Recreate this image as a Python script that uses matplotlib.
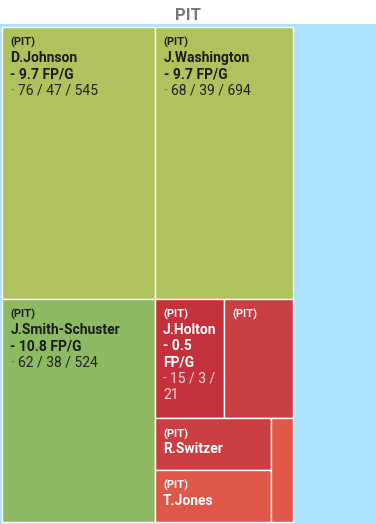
import matplotlib
matplotlib.use("Agg")
import matplotlib.pyplot as plt
from matplotlib.patches import Rectangle
from matplotlib.font_manager import FontProperties

plt.rcParams["font.family"] = ["Roboto", "DejaVu Sans"]

# ---------------- data ----------------
team = "PIT"
players = ["D.Johnson", "J.Washington", "J.Smith-Schuster", "J.Holton",
           None, "R.Switzer", "T.Jones", None]
fp_per_game = [9.7, 9.7, 10.8, 0.5, None, None, None, None]
targets = [76, 68, 62, 15, 15, 11, 11, 4]
receptions = [47, 39, 38, 3, None, None, None, None]
yards = [545, 694, 524, 21, None, None, None, None]

# ---------------- style ----------------
cell_colors = ["#b0c25d", "#b0c25d", "#8db962", "#c4313d",
               "#c93f44", "#cb3f43", "#df5749", "#e0584a"]
dark_text = [True, True, True, False, False, False, False, False]
strips = [[0, 1], [2], [3, 4], [5, 6], [7]]

W, H = 376, 524
fig = plt.figure(figsize=(W / 100, H / 100), dpi=100)
fig.patch.set_facecolor("white")
ax = fig.add_axes([0, 0, 1, 1])
ax.set_xlim(0, W)
ax.set_ylim(H, 0)
ax.axis("off")

# blue background area
ax.add_patch(Rectangle((0, 24), W, H - 24, facecolor="#ade3fe", edgecolor="none", zorder=0))
ax.text(W / 2, 19.5, team, ha="center", va="baseline", fontsize=12,
        fontweight="bold", color="#777777")


def layout(values, strips, x, y, w, h):
    rects = [None] * len(values)
    remaining = float(sum(values))
    for strip in strips:
        s = float(sum(values[i] for i in strip))
        frac = s / remaining
        if w >= h:
            cw = w * frac
            yy = y
            for i in strip:
                ih = h * values[i] / s
                rects[i] = (x, yy, cw, ih)
                yy += ih
            x += cw
            w -= cw
        else:
            rh = h * frac
            xx = x
            for i in strip:
                iw = w * values[i] / s
                rects[i] = (xx, y, iw, rh)
                xx += iw
            y += rh
            h -= rh
        remaining -= s
    return rects


rects = layout(targets, strips, 2, 27, 290.5, 494.5)

renderer = fig.canvas.get_renderer()
fp_bold_small = FontProperties(family=["Roboto", "DejaVu Sans"], weight="bold", size=8)
fp_bold = FontProperties(family=["Roboto", "DejaVu Sans"], weight="bold", size=10)
fp_norm = FontProperties(family=["Roboto", "DejaVu Sans"], weight="normal", size=10)


def tw(s, fp):
    w, _, _ = renderer.get_text_width_height_descent(s, fp, ismath=False)
    return w


def wrap(tokens, fp, maxw):
    lines, cur = [], []
    for tok in tokens:
        trial = cur + [tok]
        if cur and tw(" ".join(t for t, _ in trial), fp) > maxw:
            lines.append(cur)
            cur = [tok]
        else:
            cur = trial
    if cur:
        lines.append(cur)
    return lines


pad_x, first_base, step = 8.5, 19, 16.3

for i, (x, y, w, h) in enumerate(rects):
    ax.add_patch(Rectangle((x, y), w, h, facecolor=cell_colors[i],
                           edgecolor="white", linewidth=1.0, zorder=1))
    if w < 40:
        continue
    if dark_text[i]:
        c_main, c_stat, c_dash = "#1b1b1b", "#222222", "#7a7a6a"
    else:
        c_main, c_stat, c_dash = "#ffffff", "#f6d4d6", "#e7a2a6"
    blocks = [([("(%s)" % team, c_main)], fp_bold_small)]
    if players[i]:
        blocks.append(([(players[i], c_main)], fp_bold))
    if fp_per_game[i] is not None:
        blocks.append(([("-", c_main), (str(fp_per_game[i]), c_main), ("FP/G", c_main)], fp_bold))
    if receptions[i] is not None:
        toks = [("-", c_dash), (str(targets[i]), c_stat), ("/", c_stat),
                (str(receptions[i]), c_stat), ("/", c_stat), (str(yards[i]), c_stat)]
        blocks.append((toks, fp_norm))
    base = y + first_base
    maxw = w - 2 * pad_x + 2
    stop = False
    for toks, fp in blocks:
        for line in wrap(toks, fp, maxw):
            if base > y + h - 5:
                stop = True
                break
            xx = x + pad_x
            groups = []
            for t, c in line:
                if groups and groups[-1][1] == c:
                    groups[-1][0].append(t)
                else:
                    groups.append(([t], c))
            for gtoks, c in groups:
                s = " ".join(gtoks)
                ax.text(xx, base, s, ha="left", va="baseline", color=c,
                        fontproperties=fp, zorder=3)
                xx += tw(s + " x", fp) - tw("x", fp)
            base += step
        if stop:
            break

fig.savefig("out.png", dpi=100, facecolor="white")
